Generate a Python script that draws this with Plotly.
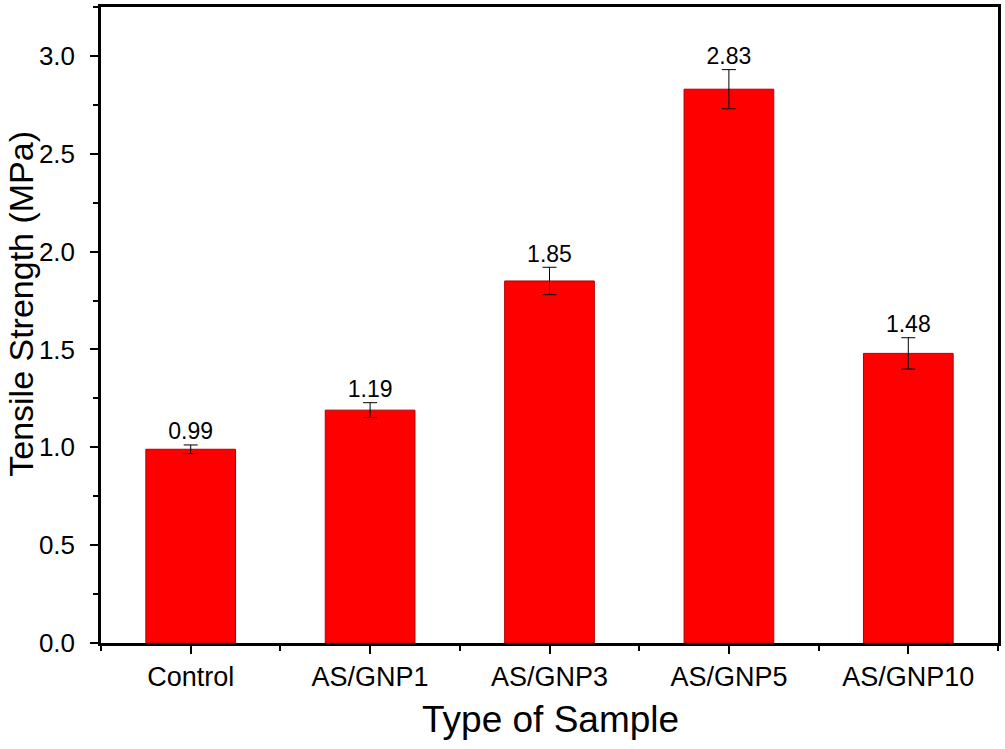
import plotly.graph_objects as go

categories = ["Control", "AS/GNP1", "AS/GNP3", "AS/GNP5", "AS/GNP10"]
strength = [0.99, 1.19, 1.85, 2.83, 1.48]
errors = [0.022, 0.038, 0.07, 0.10, 0.08]
labels = ["0.99", "1.19", "1.85", "2.83", "1.48"]
yticks = [0.0, 0.5, 1.0, 1.5, 2.0, 2.5, 3.0]
ytick_text = ["0.0", "0.5", "1.0", "1.5", "2.0", "2.5", "3.0"]

xpos = list(range(len(categories)))
FONT = "Liberation Sans, Arial, sans-serif"

fig = go.Figure()
fig.add_trace(go.Bar(
    x=xpos, y=strength, width=0.5,
    marker=dict(color="#FF0000", line=dict(color="#B00000", width=1)),
    error_y=dict(type="data", array=errors, visible=True,
                 color="black", thickness=1, width=7),
    showlegend=False, hoverinfo="skip",
))
fig.add_trace(go.Scatter(
    x=xpos, y=[v + e for v, e in zip(strength, errors)],
    mode="text", text=labels, textposition="top center",
    textfont=dict(family=FONT, size=23, color="black"),
    showlegend=False, hoverinfo="skip",
))

axis_common = dict(
    showline=True, linecolor="black", linewidth=2.5, mirror=True,
    ticks="outside", ticklen=8, tickwidth=2, tickcolor="black",
    showgrid=False, zeroline=False,
    tickfont=dict(family=FONT, size=27, color="black"),
)

fig.update_xaxes(
    range=[-0.5, 4.5], tickmode="array", tickvals=xpos, ticktext=categories,
    minor=dict(ticks="outside", ticklen=5, tickwidth=2, tickcolor="black",
               tick0=0.5, dtick=1, showgrid=False),
    **axis_common,
)
fig.update_yaxes(
    range=[0, 3.25], tickmode="array", tickvals=yticks, ticktext=ytick_text,
    minor=dict(ticks="outside", ticklen=5, tickwidth=2, tickcolor="black",
               tick0=0, dtick=0.25, showgrid=False),
    ticklabelstandoff=10,
    tickfont=dict(family=FONT, size=26, color="black"),
    **{k: v for k, v in axis_common.items() if k != "tickfont"},
)

fig.add_annotation(
    text="Tensile Strength (MPa)", textangle=-90,
    xref="paper", yref="paper", x=(20 - 101) / 899, y=(643 - 302) / 639,
    xanchor="center", yanchor="middle", showarrow=False,
    font=dict(family=FONT, size=34, color="black"),
)
fig.add_annotation(
    text="Type of Sample",
    xref="paper", yref="paper", x=(552 - 101) / 899, y=-(720 - 643) / 639,
    xanchor="center", yanchor="middle", showarrow=False,
    font=dict(family=FONT, size=37, color="black"),
)

fig.update_layout(
    width=1005, height=749,
    margin=dict(l=101, r=5, t=4, b=106),
    plot_bgcolor="white", paper_bgcolor="white",
    bargap=0.5,
)

fig.write_html("out.html")
